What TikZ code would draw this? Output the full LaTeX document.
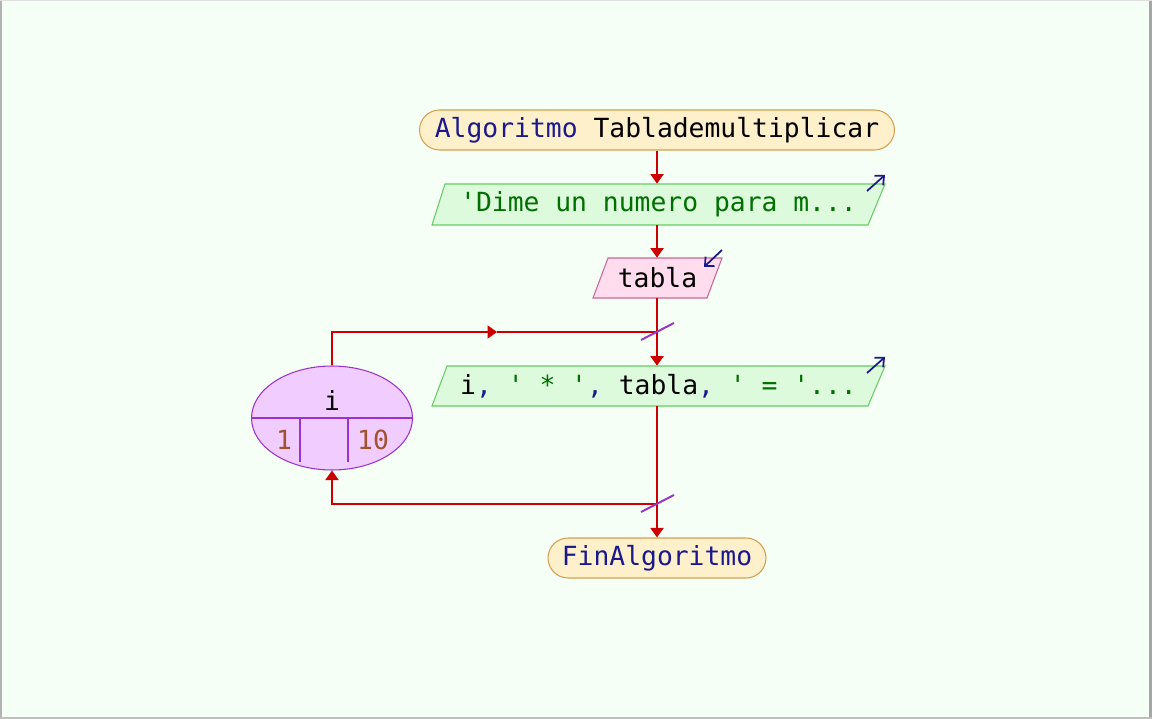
\documentclass[tikz,border=0pt]{standalone}
\usepackage{fontspec}
\setmonofont{DejaVu Sans Mono}
\usetikzlibrary{shapes.geometric,arrows.meta,calc}
\definecolor{bgc}{HTML}{F5FFF5}
\definecolor{flowred}{HTML}{CC0000}
\definecolor{kwblue}{HTML}{1A1A8C}
\definecolor{strgreen}{HTML}{007000}
\definecolor{numbrown}{HTML}{A0522D}
\definecolor{termfill}{HTML}{FFF0CC}
\definecolor{termdraw}{HTML}{D4A050}
\definecolor{outfill}{HTML}{DDFADD}
\definecolor{outdraw}{HTML}{66CC66}
\definecolor{infill}{HTML}{FFDDEE}
\definecolor{indraw}{HTML}{CC6699}
\definecolor{loopfill}{HTML}{F0CCFF}
\definecolor{loopdraw}{HTML}{9933CC}
\newcommand{\kw}[1]{\textcolor{kwblue}{#1}}
\newcommand{\str}[1]{\textcolor{strgreen}{#1}}
\tikzset{
  txt/.style={font=\ttfamily\fontsize{15}{18}\selectfont, inner sep=0pt},
  term/.style={txt, draw=termdraw, fill=termfill, line width=0.6pt, rounded corners=0.4cm, minimum height=0.8cm},
  box/.style={txt, draw=none, minimum height=0.8cm},
  flow/.style={draw=flowred, line width=1.1pt, -{Triangle[width=0.26cm,length=0.19cm]}},
  flowline/.style={draw=flowred, line width=1.1pt},
  cut/.style={draw=loopdraw, line width=1.1pt},
  io/.style={draw=kwblue, line width=1pt, -{Straight Barb[width=0.26cm,length=0.14cm]}},
}
\begin{document}
\begin{tikzpicture}[x=0.02cm, y=-0.02cm]
  % canvas
  \fill[bgc] (0,0) rectangle (1152,719);
  \useasboundingbox (0,0) rectangle (1152,719);
  \fill[gray!60] (0,0) rectangle (2,719);
  \fill[gray!70] (1149,0) rectangle (1152,719);
  \draw[gray!25, line width=0.4pt] (0,0.5) -- (1152,0.5);
  \draw[gray!50, line width=0.6pt] (0,718) -- (1152,718);

  % start / end terminals
  \node[term, minimum width=9.5cm] (start) at (657,130)
    {\kw{Algoritmo} Tablademultiplicar};
  \node[term, minimum width=4.36cm] (fin) at (657,558)
    {\kw{FinAlgoritmo}};

  % first output
  \filldraw[fill=outfill, draw=outdraw, line width=0.6pt]
    (445,184) -- (885,184) -- (868,225) -- (432,225) -- cycle;
  \node[box, minimum width=9.06cm, minimum height=0.82cm] (out1) at (658.5,204.5)
    {\str{'Dime un numero para m...}};
  \draw[io] (867,191) -- (885,175);

  % input
  \filldraw[fill=infill, draw=indraw, line width=0.6pt]
    (608,258) -- (722,258) -- (707,298) -- (593,298) -- cycle;
  \node[box, minimum width=2.58cm] (tabla) at (657.5,278) {tabla};
  \draw[io] (722,250) -- (704,267);

  % second output
  \filldraw[fill=outfill, draw=outdraw, line width=0.6pt]
    (447,366) -- (885,366) -- (868,406) -- (432,406) -- cycle;
  \node[box, minimum width=9.06cm] (out2) at (658.5,386)
    {i\kw{,} \str{' * '}\kw{,} tabla\kw{,} \str{' = '...}};
  \draw[io] (867,373) -- (885,357);

  % for-loop ellipse
  \node[ellipse, draw=loopdraw, fill=loopfill, line width=0.6pt,
        minimum width=3.22cm, minimum height=2.08cm, inner sep=0pt] (loop) at (332,418) {};
  \draw[loopdraw, line width=0.6pt] (loop.west) -- (loop.east);
  \draw[loopdraw, line width=0.6pt] (300,418) -- (300,462);
  \draw[loopdraw, line width=0.6pt] (348,418) -- (348,462);
  \node[txt] (var) at (332,400) {i};
  \node[txt, text=numbrown] (from) at (284,440) {1};
  \node[txt, text=numbrown] (to) at (373,440) {10};

  % junction points on the main line
  \coordinate (j1) at (657,332);
  \coordinate (m1) at (497,332);
  \coordinate (j2) at (657,504);

  % main flow
  \draw[flow] (start.south) -- (start.south |- out1.north);
  \draw[flow] (start.south |- out1.south) -- (start.south |- tabla.north);
  \draw[flow] (start.south |- tabla.south) -- (start.south |- out2.north);
  \draw[flow] (start.south |- out2.south) -- (fin.north);

  % loop back edges
  \draw[flow] (loop.north) |- (m1);
  \draw[flowline] (m1) -- (j1);
  \draw[flowline] (j2) -| (332,475);
  \draw[flow] (332,504) -- (loop.south);

  % loop cut marks
  \draw[cut] ($(j1)+(-16,8)$) -- ($(j1)+(17,-9)$);
  \draw[cut] ($(j2)+(-16,8)$) -- ($(j2)+(17,-9)$);
\end{tikzpicture}
\end{document}
